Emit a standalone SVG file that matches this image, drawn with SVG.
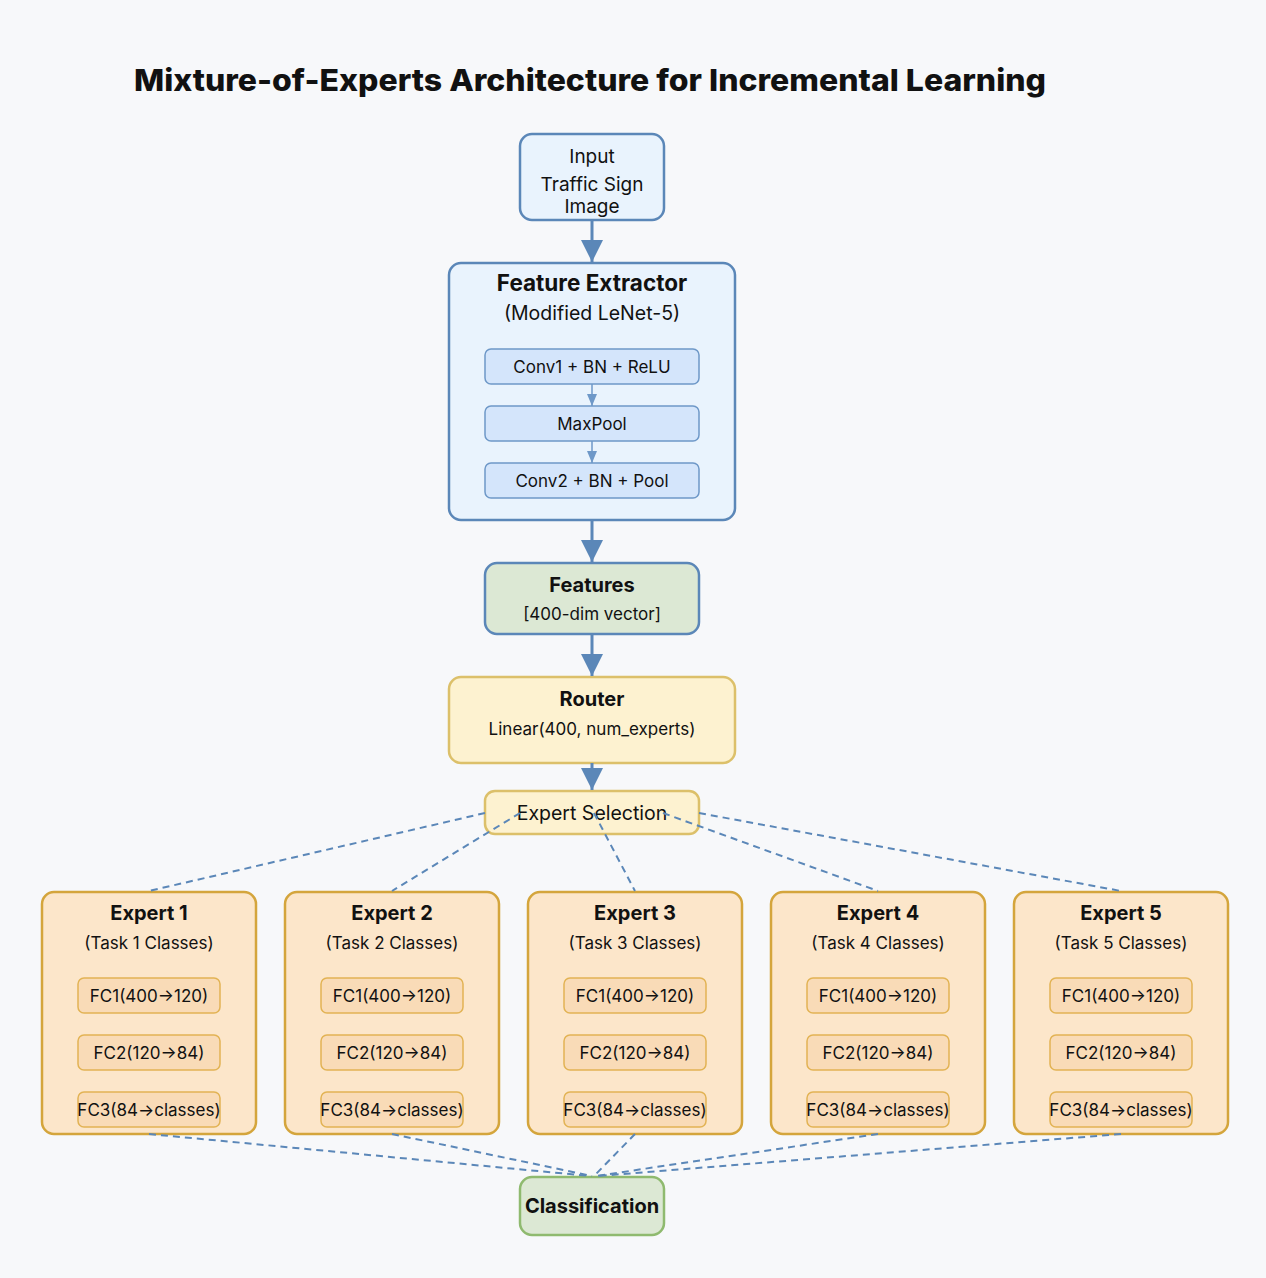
<svg xmlns="http://www.w3.org/2000/svg" width="1266" height="1278" viewBox="0 0 1266 1278">
<defs>
<marker id="big" markerUnits="userSpaceOnUse" markerWidth="22" markerHeight="26" refX="22" refY="11" orient="auto"><path d="M0,0 L22,11 L0,22 Z" fill="#5b87b8"/></marker>
<marker id="small" markerUnits="userSpaceOnUse" markerWidth="12" markerHeight="12" refX="12" refY="5" orient="auto"><path d="M0,0 L12,5 L0,10 Z" fill="#6e98c8"/></marker>
</defs>
<style>
text{font-family:Inter,"Liberation Sans",Arial,sans-serif;fill:#111;text-anchor:middle}
.b{font-weight:bold}
.s{font-size:17px}
.h{font-size:20px;font-weight:bold}
.blue{fill:#e9f3fd;stroke:#5b87b8;stroke-width:2.5}
.inb{fill:#d4e5fb;stroke:#6e98c8;stroke-width:1.5}
.green{fill:#dce8d4;stroke:#5b87b8;stroke-width:2.5}
.yellow{fill:#fdf2d0;stroke:#dcc06a;stroke-width:2.5}
.exp{fill:#fce6ca;stroke:#d4a53c;stroke-width:2.5}
.inx{fill:#f9dbb7;stroke:#e2b354;stroke-width:1.5}
.cls{fill:#dce8d4;stroke:#8fba6f;stroke-width:2.5}
.arr{stroke:#5b87b8;stroke-width:3;fill:none}
.sarr{stroke:#6e98c8;stroke-width:1.5;fill:none}
.dash{stroke:#5b87b8;stroke-width:2;stroke-dasharray:7 5;fill:none}
</style>
<rect width="1266" height="1278" fill="#f7f8fa"/>
<text x="590" y="91" font-weight="800" font-size="30" textLength="912" lengthAdjust="spacingAndGlyphs">Mixture-of-Experts Architecture for Incremental Learning</text>

<g id="input">
<rect x="520" y="134" width="144" height="86" rx="12" class="blue" fill="#f0f6fd"/>
<text x="592" y="163" font-size="19">Input</text>
<text x="592" y="191" font-size="19">Traffic Sign</text>
<text x="592" y="213" font-size="19">Image</text>
</g>

<g id="feature-extractor">
<rect x="449" y="263" width="286" height="257" rx="12" class="blue"/>
<text x="592" y="291" class="b" font-size="22.5">Feature Extractor</text>
<text x="592" y="320" font-size="19.5">(Modified LeNet-5)</text>
<rect x="485" y="349" width="214" height="35" rx="6" class="inb"/>
<text x="592" y="373" class="s">Conv1 + BN + ReLU</text>
<rect x="485" y="406" width="214" height="35" rx="6" class="inb"/>
<text x="592" y="430" class="s">MaxPool</text>
<rect x="485" y="463" width="214" height="35" rx="6" class="inb"/>
<text x="592" y="487" class="s">Conv2 + BN + Pool</text>
</g>

<g id="features">
<rect x="485" y="563" width="214" height="71" rx="12" class="green"/>
<text x="592" y="592" class="h">Features</text>
<text x="592" y="620" class="s">[400-dim vector]</text>
</g>

<g id="router">
<rect x="449" y="677" width="286" height="86" rx="12" class="yellow"/>
<text x="592" y="706" class="h">Router</text>
<text x="592" y="735" class="s">Linear(400, num_experts)</text>
</g>

<g id="expert-selection">
<rect x="485" y="791" width="214" height="43" rx="10" class="yellow"/>
<text x="592" y="820" font-size="19.5">Expert Selection</text>
</g>

<g id="expert1">
<rect x="42" y="892" width="214" height="242" rx="12" class="exp"/>
<text x="149" y="920" class="h">Expert 1</text>
<text x="149" y="949" class="s">(Task 1 Classes)</text>
<rect x="78" y="978" width="142" height="35" rx="6" class="inx"/>
<text x="149" y="1002" class="s">FC1(400→120)</text>
<rect x="78" y="1035" width="142" height="35" rx="6" class="inx"/>
<text x="149" y="1059" class="s">FC2(120→84)</text>
<rect x="78" y="1092" width="142" height="35" rx="6" class="inx"/>
<text x="149" y="1116" class="s">FC3(84→classes)</text>
</g>
<g id="expert2">
<rect x="285" y="892" width="214" height="242" rx="12" class="exp"/>
<text x="392" y="920" class="h">Expert 2</text>
<text x="392" y="949" class="s">(Task 2 Classes)</text>
<rect x="321" y="978" width="142" height="35" rx="6" class="inx"/>
<text x="392" y="1002" class="s">FC1(400→120)</text>
<rect x="321" y="1035" width="142" height="35" rx="6" class="inx"/>
<text x="392" y="1059" class="s">FC2(120→84)</text>
<rect x="321" y="1092" width="142" height="35" rx="6" class="inx"/>
<text x="392" y="1116" class="s">FC3(84→classes)</text>
</g>
<g id="expert3">
<rect x="528" y="892" width="214" height="242" rx="12" class="exp"/>
<text x="635" y="920" class="h">Expert 3</text>
<text x="635" y="949" class="s">(Task 3 Classes)</text>
<rect x="564" y="978" width="142" height="35" rx="6" class="inx"/>
<text x="635" y="1002" class="s">FC1(400→120)</text>
<rect x="564" y="1035" width="142" height="35" rx="6" class="inx"/>
<text x="635" y="1059" class="s">FC2(120→84)</text>
<rect x="564" y="1092" width="142" height="35" rx="6" class="inx"/>
<text x="635" y="1116" class="s">FC3(84→classes)</text>
</g>
<g id="expert4">
<rect x="771" y="892" width="214" height="242" rx="12" class="exp"/>
<text x="878" y="920" class="h">Expert 4</text>
<text x="878" y="949" class="s">(Task 4 Classes)</text>
<rect x="807" y="978" width="142" height="35" rx="6" class="inx"/>
<text x="878" y="1002" class="s">FC1(400→120)</text>
<rect x="807" y="1035" width="142" height="35" rx="6" class="inx"/>
<text x="878" y="1059" class="s">FC2(120→84)</text>
<rect x="807" y="1092" width="142" height="35" rx="6" class="inx"/>
<text x="878" y="1116" class="s">FC3(84→classes)</text>
</g>
<g id="expert5">
<rect x="1014" y="892" width="214" height="242" rx="12" class="exp"/>
<text x="1121" y="920" class="h">Expert 5</text>
<text x="1121" y="949" class="s">(Task 5 Classes)</text>
<rect x="1050" y="978" width="142" height="35" rx="6" class="inx"/>
<text x="1121" y="1002" class="s">FC1(400→120)</text>
<rect x="1050" y="1035" width="142" height="35" rx="6" class="inx"/>
<text x="1121" y="1059" class="s">FC2(120→84)</text>
<rect x="1050" y="1092" width="142" height="35" rx="6" class="inx"/>
<text x="1121" y="1116" class="s">FC3(84→classes)</text>
</g>

<g id="classification">
<rect x="520" y="1177" width="144" height="58" rx="12" class="cls"/>
<text x="592" y="1213" class="h">Classification</text>
</g>

<g id="connectors">
<line x1="592" y1="220" x2="592" y2="262" class="arr" marker-end="url(#big)"/>
<line x1="592" y1="384" x2="592" y2="406" class="sarr" marker-end="url(#small)"/>
<line x1="592" y1="441" x2="592" y2="463" class="sarr" marker-end="url(#small)"/>
<line x1="592" y1="520" x2="592" y2="562" class="arr" marker-end="url(#big)"/>
<line x1="592" y1="634" x2="592" y2="676" class="arr" marker-end="url(#big)"/>
<line x1="592" y1="763" x2="592" y2="790" class="arr" marker-end="url(#big)"/>
<line x1="485" y1="813" x2="149" y2="891" class="dash"/>
<line x1="520" y1="813" x2="392" y2="891" class="dash"/>
<line x1="594" y1="813" x2="635" y2="891" class="dash"/>
<line x1="663" y1="813" x2="878" y2="891" class="dash"/>
<line x1="699" y1="813" x2="1121" y2="891" class="dash"/>
<line x1="149" y1="1134" x2="590" y2="1176" class="dash"/>
<line x1="392" y1="1134" x2="592" y2="1176" class="dash"/>
<line x1="635" y1="1134" x2="594" y2="1176" class="dash"/>
<line x1="878" y1="1134" x2="596" y2="1176" class="dash"/>
<line x1="1121" y1="1134" x2="598" y2="1176" class="dash"/>
</g>
</svg>
